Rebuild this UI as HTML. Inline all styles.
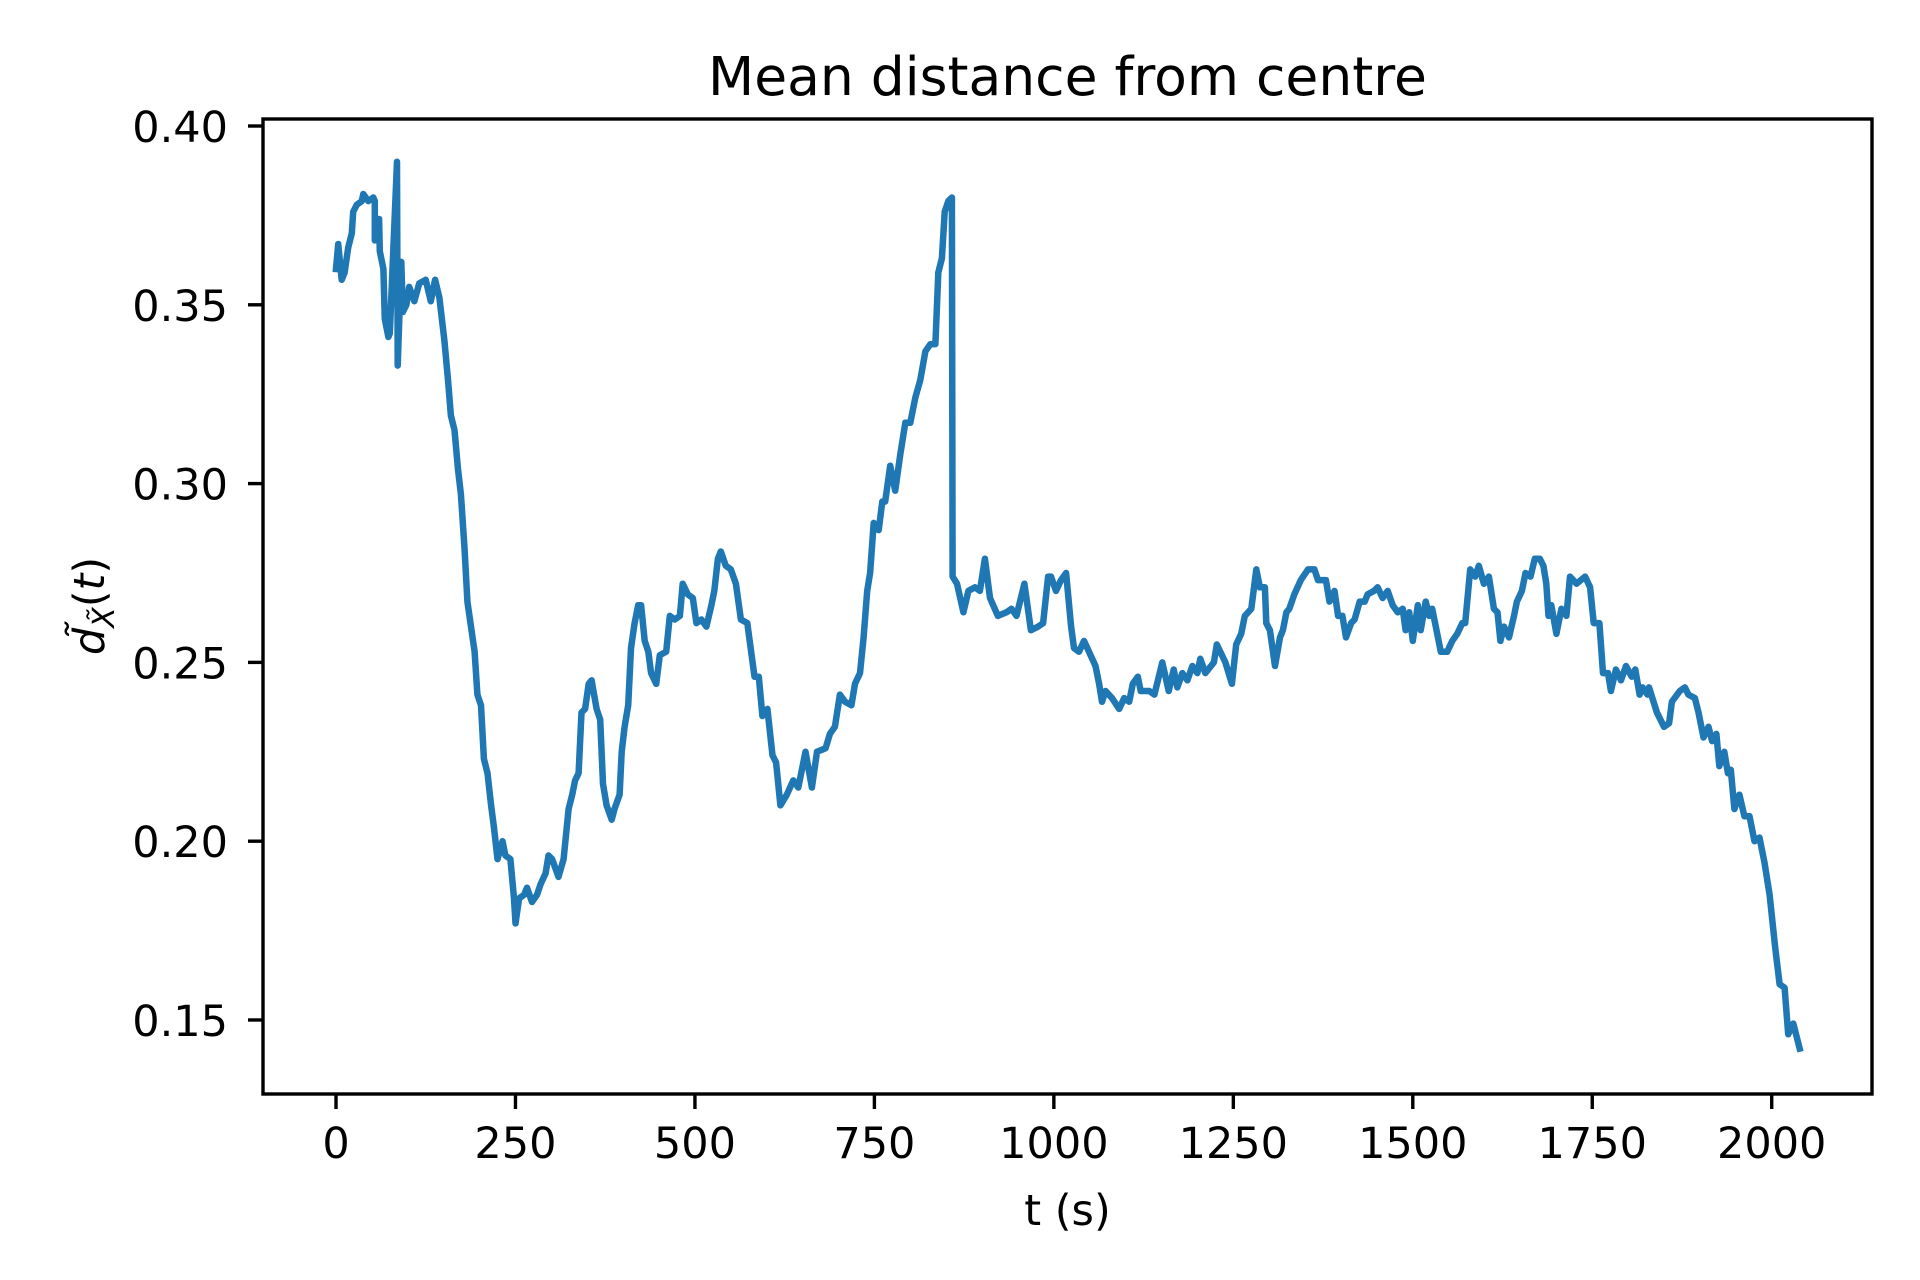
<!DOCTYPE html>
<html><head><meta charset="utf-8"><style>
html,body{margin:0;padding:0;background:#fff;}
svg{display:block;font-family:"DejaVu Sans","Liberation Sans",sans-serif;}
</style></head><body>
<svg id="chart" width="1920" height="1280" viewBox="0 0 1920 1280" xmlns="http://www.w3.org/2000/svg">
<rect width="1920" height="1280" fill="#fff"/>
<text x="1067.5" y="95" text-anchor="middle" font-size="53.5" fill="#000">Mean distance from centre</text>
<g id="xticks"></g>
<g id="yticks"></g>
<path id="series" fill="none" stroke="#1f77b4" stroke-width="6.5" stroke-linejoin="round" stroke-linecap="square"/>
<rect x="263" y="119" width="1609" height="975" fill="none" stroke="#000" stroke-width="3.4"/>
<text x="1067.5" y="1225" text-anchor="middle" font-size="43" fill="#000">t (s)</text>
<text transform="translate(104,606) rotate(-90)" text-anchor="middle" font-size="43" fill="#000"><tspan font-style="italic">d̃</tspan><tspan font-style="italic" font-size="30" dy="10">X̃</tspan><tspan dy="-10">(</tspan><tspan font-style="italic">t</tspan><tspan>)</tspan></text>
</svg>
<script>
const xTickValues=[0,250,500,750,1000,1250,1500,1750,2000];
const xTickLabels=["0","250","500","750","1000","1250","1500","1750","2000"];
const yTickValues=[0.15,0.20,0.25,0.30,0.35,0.40];
const yTickLabels=["0.15","0.20","0.25","0.30","0.35","0.40"];
const times=[0,3,8,12,17,22,24,29,36,38,45,52,54,54,60,61,66,68,73,75,85,86,89,91,93,98,102,109,116,125,132,138,144,151,156,160,165,170,174,179,183,188,193,197,202,206,211,216,220,225,232,236,243,248,250,255,262,266,273,280,285,292,296,301,310,317,324,329,333,338,342,347,352,356,363,368,372,377,384,388,395,398,402,407,411,416,421,425,430,435,439,446,451,460,465,472,479,483,490,497,502,509,516,523,527,532,536,543,550,557,564,573,583,589,594,601,608,613,619,628,637,644,654,663,670,682,688,695,702,709,718,723,730,735,740,744,749,756,761,765,772,779,786,793,800,807,814,821,828,835,839,844,848,853,858,859,865,874,881,890,897,904,911,922,934,941,948,959,968,978,985,992,996,1003,1010,1017,1024,1028,1035,1042,1049,1058,1063,1067,1072,1081,1091,1098,1105,1110,1117,1121,1133,1140,1151,1160,1167,1172,1179,1186,1193,1200,1204,1211,1223,1227,1239,1248,1254,1261,1266,1275,1282,1287,1294,1296,1301,1308,1315,1319,1324,1328,1335,1344,1354,1363,1368,1379,1384,1391,1396,1402,1407,1414,1419,1426,1433,1437,1446,1451,1458,1465,1472,1479,1486,1490,1495,1500,1507,1511,1518,1523,1527,1532,1539,1548,1555,1562,1569,1573,1580,1587,1592,1599,1606,1613,1618,1622,1627,1634,1641,1645,1652,1657,1664,1670,1677,1682,1686,1689,1693,1700,1707,1714,1719,1728,1740,1747,1752,1760,1765,1772,1776,1783,1790,1797,1805,1810,1816,1820,1827,1829,1840,1850,1857,1861,1872,1879,1884,1893,1898,1905,1912,1917,1923,1927,1934,1939,1943,1948,1955,1962,1969,1976,1983,1990,1997,2005,2011,2018,2023,2030,2039];
const values=[0.360,0.367,0.357,0.359,0.366,0.370,0.376,0.378,0.379,0.381,0.379,0.380,0.379,0.368,0.374,0.365,0.360,0.346,0.341,0.342,0.390,0.333,0.351,0.362,0.348,0.350,0.355,0.351,0.356,0.357,0.351,0.357,0.352,0.340,0.329,0.319,0.315,0.304,0.297,0.282,0.267,0.260,0.253,0.241,0.238,0.223,0.219,0.210,0.204,0.195,0.200,0.196,0.195,0.184,0.177,0.184,0.185,0.187,0.183,0.185,0.188,0.191,0.196,0.195,0.190,0.195,0.209,0.213,0.217,0.219,0.236,0.237,0.244,0.245,0.237,0.234,0.216,0.210,0.206,0.209,0.213,0.225,0.232,0.238,0.254,0.261,0.266,0.266,0.256,0.253,0.247,0.244,0.252,0.253,0.263,0.262,0.263,0.272,0.269,0.268,0.261,0.262,0.260,0.266,0.270,0.279,0.281,0.277,0.276,0.272,0.262,0.261,0.246,0.246,0.235,0.237,0.224,0.222,0.210,0.213,0.217,0.215,0.225,0.215,0.225,0.226,0.230,0.232,0.241,0.239,0.238,0.244,0.247,0.257,0.270,0.275,0.289,0.287,0.295,0.295,0.305,0.298,0.308,0.317,0.317,0.324,0.329,0.337,0.339,0.339,0.359,0.363,0.376,0.379,0.380,0.274,0.272,0.264,0.270,0.271,0.270,0.279,0.268,0.263,0.264,0.265,0.263,0.272,0.259,0.260,0.261,0.274,0.274,0.270,0.273,0.275,0.260,0.254,0.253,0.256,0.253,0.249,0.244,0.239,0.242,0.240,0.237,0.240,0.239,0.244,0.246,0.242,0.242,0.241,0.250,0.242,0.248,0.243,0.247,0.245,0.249,0.247,0.251,0.247,0.250,0.255,0.250,0.244,0.255,0.258,0.263,0.265,0.276,0.271,0.271,0.261,0.259,0.249,0.257,0.259,0.264,0.265,0.269,0.273,0.276,0.276,0.273,0.273,0.267,0.270,0.263,0.263,0.257,0.261,0.262,0.267,0.267,0.269,0.270,0.271,0.268,0.270,0.266,0.264,0.265,0.259,0.264,0.256,0.266,0.259,0.267,0.263,0.265,0.260,0.253,0.253,0.256,0.258,0.261,0.261,0.276,0.274,0.277,0.272,0.274,0.265,0.264,0.256,0.260,0.257,0.263,0.267,0.270,0.275,0.274,0.279,0.279,0.277,0.272,0.263,0.266,0.258,0.265,0.263,0.274,0.272,0.274,0.271,0.261,0.261,0.247,0.247,0.242,0.248,0.245,0.249,0.246,0.248,0.241,0.243,0.241,0.243,0.236,0.232,0.233,0.239,0.242,0.243,0.241,0.240,0.236,0.229,0.232,0.228,0.230,0.221,0.225,0.219,0.220,0.209,0.213,0.207,0.207,0.200,0.201,0.194,0.185,0.170,0.160,0.159,0.146,0.149,0.142];
const xMin=-101.7,xMax=2139.7,yMin=0.1293,yMax=0.40196;
const L=263,R=1872,T=119,B=1094;
function sx(t){return L+(t-xMin)/(xMax-xMin)*(R-L);}
function sy(v){return B-(v-yMin)/(yMax-yMin)*(B-T);}
const NS="http://www.w3.org/2000/svg";
const xg=document.getElementById('xticks'),yg=document.getElementById('yticks');
xTickValues.forEach((v,i)=>{
  const x=sx(v);
  const ln=document.createElementNS(NS,'line');
  ln.setAttribute('x1',x);ln.setAttribute('x2',x);ln.setAttribute('y1',B);ln.setAttribute('y2',B+15);
  ln.setAttribute('stroke','#000');ln.setAttribute('stroke-width','3.4');
  
  
  xg.appendChild(ln);
  const tx=document.createElementNS(NS,'text');
  tx.setAttribute('x',x);tx.setAttribute('y',1158);tx.setAttribute('text-anchor','middle');tx.setAttribute('font-size','43');
  tx.textContent=xTickLabels[i];
  
  
  xg.appendChild(tx);
});
yTickValues.forEach((v,i)=>{
  const y=sy(v);
  const ln=document.createElementNS(NS,'line');
  ln.setAttribute('x1',L-15);ln.setAttribute('x2',L);ln.setAttribute('y1',y);ln.setAttribute('y2',y);
  ln.setAttribute('stroke','#000');ln.setAttribute('stroke-width','3.4');
  
  
  yg.appendChild(ln);
  const tx=document.createElementNS(NS,'text');
  tx.setAttribute('x',L-35);tx.setAttribute('y',y+16);tx.setAttribute('text-anchor','end');tx.setAttribute('font-size','43');
  tx.textContent=yTickLabels[i];
  
  
  yg.appendChild(tx);
});
let d='';
times.forEach((t,i)=>{d+=(i?'L':'M')+sx(t).toFixed(1)+','+sy(values[i]).toFixed(1);});
document.getElementById('series').setAttribute('d',d);
</script>
</body></html>
